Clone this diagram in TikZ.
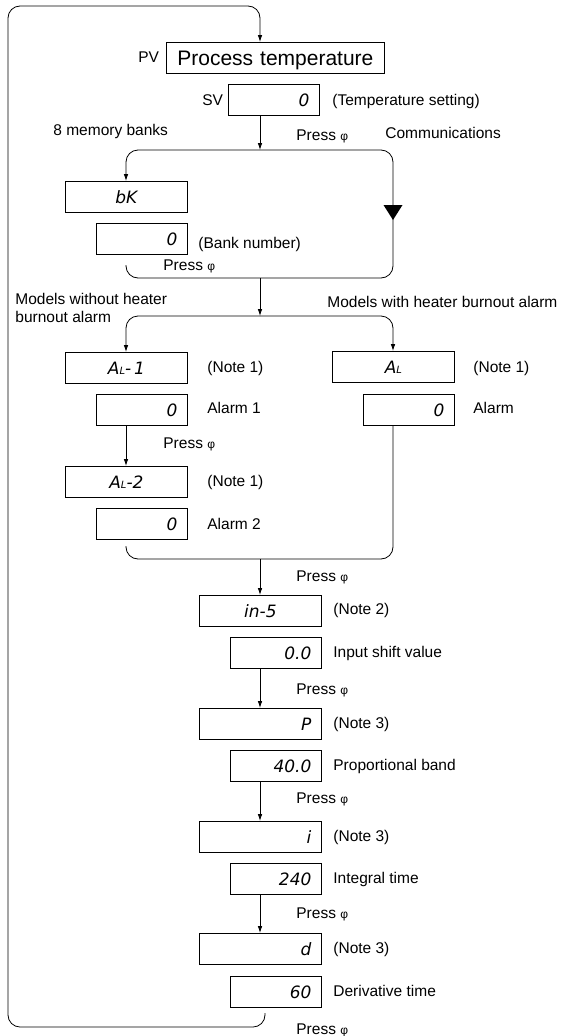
\documentclass[tikz,border=0pt]{standalone}
\usepackage{fontspec}
\setmainfont{Liberation Sans}
\newfontfamily\segfont{DejaVu Sans}
\usetikzlibrary{arrows.meta}
\newcommand\keysym{{\fontsize{12}{12}\selectfont φ}}
\newcommand\smallL{{\fontsize{10}{10}\selectfont L}}
\begin{document}
\begin{tikzpicture}[x=1pt,y=-1pt,
  line width=0.8pt,
  >={Latex[length=7pt,width=4.6pt]},
  lab/.style={anchor=base west,inner sep=0pt,font=\fontsize{15.5}{18}\selectfont},
  seg/.style={font=\segfont\itshape\fontsize{17}{17}\selectfont},
  box/.style={draw,anchor=north west,minimum height=31pt,inner ysep=0pt,inner xsep=10pt,text height=12.4pt,text depth=0pt,seg},
  wide/.style={box,text width=102pt,align=center},
  wider/.style={box,text width=102pt,align=right},
  small/.style={box,text width=71pt,align=right},
  conn/.style={->,rounded corners=12pt}
]
\useasboundingbox (0,0) rectangle (564,1036);

% boxes
\node[box,text width=198pt,align=center,font=\fontsize{21}{21}\selectfont,text height=15pt] (pv) at (166,42) {Process temperature};
\node[small] (sv) at (228,84) {0};
\node[wide] (bk) at (65,181) {bK};
\node[small] (bank) at (96,223) {0};
\node[wide] (al1) at (65,352) {A\smallL-\,1};
\node[small] (a1v) at (96,394) {0};
\node[wide] (al) at (332,351) {A\smallL};
\node[small] (av) at (363,394) {0};
\node[wide] (al2) at (65,466) {A\smallL-2};
\node[small] (a2v) at (96,508) {0};
\node[wide] (ins) at (199,595) {in-5};
\node[small] (isv) at (230,637) {0.0};
\node[wider] (pp) at (199,708) {P};
\node[small] (pbv) at (230,750) {40.0};
\node[wider] (ii) at (199,821) {i};
\node[small] (itv) at (230,863) {240};
\node[wider] (dd) at (199,933) {d};
\node[small] (dtv) at (230,976) {60};

% helper coordinates
\coordinate (X1) at (126,0);
\coordinate (X2) at (260,0);
\coordinate (X3) at (393,0);
\coordinate (loopstart) at (265,1013);
\coordinate (b1) at (260,150);
\coordinate (m1) at (126,265);
\coordinate (j1) at (260,278);
\coordinate (b2) at (260,316);
\coordinate (m2) at (126,546);
\coordinate (j2) at (260,559);

% connectors
\draw[conn] (loopstart) -- (265,1027) -- (8,1027) -- (8,6) -- (260,6) -- (pv.north -| X2);
\draw[->] (sv.south -| X2) -- (b1);
\draw[conn] (m1) -- (126,278) -- (393,278) -- (393,150) -- (126,150) -- (bk.north -| X1);
\fill (383.5,205) -- (402.5,205) -- (393,220) -- cycle;
\draw[->] (j1) -- (b2);
\draw[conn] (b2) -- (126,316) -- (al1.north -| X1);
\draw[conn] (b2) -- (393,316) -- (al.north -| X3);
\draw[->] (a1v.south -| X1) -- (al2.north -| X1);
\draw[rounded corners=12pt] (m2) -- (126,559) -- (393,559) -- (av.south -| X3);
\draw[->] (j2) -- (ins.north -| X2);
\draw[->] (isv.south -| X2) -- (pp.north -| X2);
\draw[->] (pbv.south -| X2) -- (ii.north -| X2);
\draw[->] (itv.south -| X2) -- (dd.north -| X2);

% labels
\node[lab] (lpv) at (138,62.5) {PV};
\node[lab] (lsv) at (202,105.5) {SV};
\node[lab] (ltemp) at (332,105.5) {(Temperature setting)};
\node[lab] (lmem) at (53,135.5) {8 memory banks};
\node[lab] (lpr1) at (296,140.5) {Press \keysym};
\node[lab] (lcom) at (385,138.5) {Communications};
\node[lab] (lbank) at (198,248.5) {(Bank number)};
\node[lab] (lpr2) at (163,270.5) {Press \keysym};
\node[lab] (lwo1) at (15,304.5) {Models without heater};
\node[lab] (lwo2) at (15,322.5) {burnout alarm};
\node[lab] (lwi) at (327,307.5) {Models with heater burnout alarm};
\node[lab] (ln1a) at (207,372.5) {(Note 1)};
\node[lab] (ln1b) at (473,372.5) {(Note 1)};
\node[lab] (lal1) at (207,413.5) {Alarm 1};
\node[lab] (lal) at (473,413.5) {Alarm};
\node[lab] (lpr3) at (163,448.5) {Press \keysym};
\node[lab] (ln1c) at (207,486.5) {(Note 1)};
\node[lab] (lal2) at (207,529.5) {Alarm 2};
\node[lab] (lpr4) at (296,581.5) {Press \keysym};
\node[lab] (ln2) at (333,614.5) {(Note 2)};
\node[lab] (lisv) at (333,657.5) {Input shift value};
\node[lab] (lpr5) at (296,694.5) {Press \keysym};
\node[lab] (ln3a) at (333,728.5) {(Note 3)};
\node[lab] (lpb) at (333,770.5) {Proportional band};
\node[lab] (lpr6) at (296,803.5) {Press \keysym};
\node[lab] (ln3b) at (333,841.5) {(Note 3)};
\node[lab] (lit) at (333,883.5) {Integral time};
\node[lab] (lpr7) at (296,918.5) {Press \keysym};
\node[lab] (ln3c) at (333,953.5) {(Note 3)};
\node[lab] (ldt) at (333,996.5) {Derivative time};
\node[lab] (lpr8) at (296,1034) {Press \keysym};
\end{tikzpicture}
\end{document}
